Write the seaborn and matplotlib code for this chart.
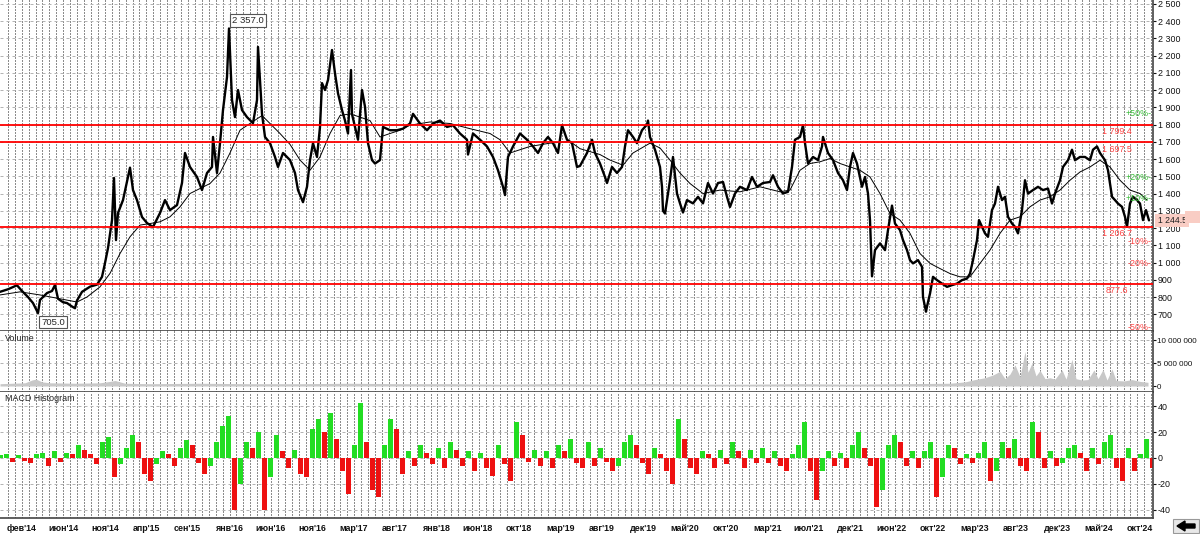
import numpy as np
import matplotlib
matplotlib.use("Agg")
import matplotlib.pyplot as plt
import matplotlib.patches as mpatches
import seaborn as sns
import pandas as pd

# bar number on the time axis (one step = one column of the original chart)
price_bar = [0, 8, 17, 22, 28, 33, 38, 40, 47, 52, 55, 58, 63, 67, 72, 75, 77, 82, 90, 97,
             102, 105, 108, 112, 114, 116, 118, 123, 128, 130, 133, 137, 142, 147, 153, 160,
             165, 170, 177, 182, 185, 190, 197, 202, 207, 212, 213, 217, 220, 223, 227, 229,
             232, 235, 238, 242, 247, 253, 257, 258, 260, 262, 265, 270, 275, 278, 283, 290,
             295, 298, 303, 307, 310, 313, 317, 320, 322, 325, 328, 332, 335, 338, 342, 345,
             348, 351, 352, 355, 358, 362, 365, 368, 372, 375, 380, 383, 390, 397, 403, 410,
             413, 420, 427, 433, 440, 447, 453, 460, 467, 468, 473, 480, 487, 493, 498, 503,
             505, 508, 513, 520, 527, 533, 538, 543, 548, 553, 558, 562, 567, 572, 577, 580,
             587, 592, 595, 600, 605, 607, 612, 617, 622, 625, 628, 633, 637, 642, 647, 648,
             650, 655, 660, 662, 663, 665, 667, 670, 673, 677, 680, 683, 687, 693, 698, 703,
             708, 713, 718, 723, 727, 730, 735, 740, 747, 752, 757, 763, 770, 773, 778, 783,
             788, 792, 795, 800, 803, 805, 808, 813, 818, 822, 823, 828, 833, 838, 843, 847,
             850, 853, 857, 862, 865, 868, 870, 872, 875, 880, 885, 888, 892, 895, 900, 903,
             907, 910, 913, 918, 922, 923, 926, 927, 930, 933, 937, 942, 947, 952, 957, 962,
             967, 970, 973, 977, 979, 982, 985, 988, 992, 995, 998, 1002, 1005, 1008, 1012,
             1015, 1018, 1022, 1025, 1028, 1033, 1038, 1043, 1048, 1052, 1055, 1060, 1063,
             1068, 1072, 1075, 1080, 1085, 1090, 1093, 1097, 1100, 1105, 1108, 1112, 1115,
             1118, 1122, 1125, 1127, 1130, 1133, 1137, 1140, 1143, 1146, 1149]
price_close = [830, 845, 868, 835, 800, 765, 707, 783, 823, 835, 870, 790, 770, 765, 745, 735,
               780, 830, 860, 872, 917, 997, 1084, 1246, 1490, 1130, 1287, 1362, 1496, 1550,
               1420, 1362, 1264, 1229, 1206, 1287, 1362, 1304, 1333, 1461, 1635, 1554, 1496,
               1420, 1519, 1554, 1728, 1519, 1692, 1884, 2075, 2357, 1942, 1843, 2000, 1884,
               1843, 1808, 1942, 2250, 2058, 1862, 1728, 1692, 1612, 1554, 1635, 1594, 1519,
               1420, 1350, 1439, 1594, 1692, 1612, 1786, 2040, 2000, 2058, 2232, 2097, 1981,
               1884, 1823, 1748, 2116, 1860, 1786, 1712, 2000, 1903, 1692, 1594, 1574, 1594,
               1786, 1767, 1767, 1776, 1806, 1862, 1806, 1767, 1806, 1823, 1786, 1796, 1748,
               1712, 1626, 1748, 1712, 1673, 1612, 1535, 1439, 1391, 1612, 1673, 1748, 1712,
               1673, 1635, 1692, 1728, 1692, 1635, 1796, 1712, 1692, 1554, 1560, 1635, 1712,
               1635, 1574, 1496, 1461, 1554, 1519, 1554, 1673, 1767, 1728, 1692, 1767, 1800,
               1823, 1728, 1654, 1554, 1439, 1300, 1284, 1362, 1477, 1612, 1400, 1343, 1290,
               1362, 1343, 1381, 1343, 1461, 1400, 1461, 1467, 1381, 1322, 1400, 1439, 1420,
               1496, 1439, 1461, 1467, 1506, 1439, 1400, 1410, 1554, 1712, 1728, 1796, 1692,
               1574, 1612, 1594, 1673, 1728, 1635, 1594, 1519, 1477, 1420, 1554, 1635, 1574,
               1439, 1496, 1400, 1246, 920, 1072, 1111, 1072, 1188, 1330, 1226, 1188, 1130,
               1072, 1014, 995, 1014, 975, 800, 715, 745, 820, 917, 898, 878, 859, 869, 878,
               898, 907, 936, 1014, 1130, 1246, 1207, 1169, 1149, 1304, 1342, 1439, 1362, 1381,
               1265, 1226, 1207, 1169, 1304, 1477, 1400, 1420, 1439, 1420, 1429, 1342, 1400,
               1477, 1554, 1593, 1654, 1593, 1612, 1612, 1593, 1654, 1673, 1635, 1593, 1535,
               1381, 1362, 1342, 1323, 1265, 1207, 1342, 1381, 1362, 1342, 1246, 1304, 1244.5]

# moving average line
ma_bar = [0, 20, 40, 77, 87, 100, 110, 120, 130, 140, 150, 160, 170, 180, 190, 200, 210, 220,
          230, 240, 250, 262, 270, 280, 290, 300, 310, 320, 330, 340, 350, 360, 370, 380, 390,
          400, 410, 430, 450, 470, 490, 500, 510, 520, 530, 550, 570, 580, 600, 610, 623, 633,
          650, 660, 670, 680, 690, 703, 720, 740, 760, 780, 790, 800, 810, 820, 830, 840, 860,
          870, 880, 890, 900, 910, 920, 930, 940, 950, 960, 970, 980, 990, 1000, 1010, 1020,
          1030, 1040, 1050, 1060, 1070, 1080, 1090, 1100, 1110, 1120, 1130, 1140, 1147]
ma_value = [812, 830, 812, 771, 800, 859, 937, 1052, 1149, 1217, 1226, 1236, 1265, 1323, 1400,
            1429, 1458, 1519, 1635, 1767, 1806, 1852, 1806, 1748, 1685, 1594, 1535, 1612, 1748,
            1852, 1862, 1843, 1823, 1728, 1748, 1767, 1796, 1815, 1806, 1776, 1748, 1712, 1635,
            1654, 1673, 1692, 1702, 1660, 1626, 1594, 1564, 1635, 1692, 1664, 1594, 1519, 1458,
            1400, 1420, 1410, 1439, 1410, 1420, 1535, 1574, 1584, 1603, 1574, 1535, 1496, 1400,
            1284, 1246, 1169, 1052, 995, 965, 936, 917, 917, 995, 1072, 1169, 1246, 1265, 1323,
            1362, 1381, 1420, 1477, 1525, 1554, 1593, 1554, 1477, 1420, 1400, 1362]

levels = [1799.4, 1697.5, 1206.7, 877.6]
level_text = ["1 799.4", "1 697.5", "1 206.7", "877.6"]
last_price = 1244.5
pct_marks = [50, 20, 10, -10, -20, -50]
high_bar, high_price = 229, 2357.0
low_bar, low_price = 38, 705.0

vol_bar = [0, 12, 25, 32, 36, 42, 50, 75, 100, 110, 115, 125, 150, 200, 250, 300, 350, 400,
           450, 500, 550, 600, 650, 700, 750, 800, 850, 900, 950, 965, 975, 985, 993, 1000,
           1005, 1010, 1015, 1020, 1025, 1028, 1032, 1036, 1040, 1045, 1050, 1055, 1062,
           1066, 1072, 1076, 1082, 1088, 1094, 1098, 1103, 1107, 1112, 1116, 1124, 1132,
           1140, 1148]
vol_value = [0.5, 0.6, 0.7, 1.3, 1.5, 0.9, 0.7, 0.6, 0.7, 1.0, 1.2, 0.6, 0.5, 0.6, 0.5, 0.5,
             0.6, 0.5, 0.5, 0.4, 0.5, 0.4, 0.5, 0.4, 0.4, 0.5, 0.4, 0.5, 0.6, 0.9, 1.4, 1.8,
             2.4, 3.2, 1.6, 2.6, 4.6, 2.0, 7.5, 3.0, 5.0, 2.2, 3.4, 1.6, 1.8, 1.5, 3.5, 1.5,
             5.8, 1.6, 1.3, 1.4, 3.5, 1.6, 3.6, 1.3, 3.7, 1.2, 1.1, 1.4, 1.0, 0.8]

macd_value = [2, 3, -3, 2, -2, -4, 3, 4, -6, 5, -3, 4, 3, 10, 6, 3, -5, 12, 16, -15, -5, 8,
              18, 12, -12, -18, -5, 5, 3, -6, 8, 14, 10, -4, -12, -6, 12, 25, 32, -40, -20,
              12, 8, 20, -40, -15, 18, 5, -8, 6, -12, -15, 22, 30, 20, 35, 15, -10, -28, 10,
              42, 12, -25, -30, 10, 30, 22, -12, 5, -6, 10, 4, -5, 8, -8, 12, 6, -6, 5, -10,
              4, -8, -14, 10, -5, -18, 28, 18, -3, 6, -6, 5, -8, 10, 5, 15, -4, -8, 12, -6,
              8, -3, -10, -6, 12, 18, 10, -4, -12, 8, 3, -10, -20, 30, 15, -8, -12, 5, 3, -8,
              6, -5, 12, 5, -8, 6, -4, 8, -4, 5, -6, -10, 3, 10, 28, -10, -32, -10, 5, -6, 4,
              -8, 10, 20, 8, -6, -38, -25, 10, 18, 12, -6, 5, -8, 5, 12, -30, -15, 10, 8, -5,
              3, -4, 4, 12, -18, -10, 12, 8, 15, -6, -10, 28, 20, -8, 5, -6, -4, 8, 10, 4,
              -10, 8, -5, 12, 18, -8, -18, 8, -10, 3, 15, -8]
macd_bar = [6 * i for i in range(len(macd_value))]

month_labels = ["фев'14", "июн'14", "ноя'14", "апр'15", "сен'15", "янв'16", "июн'16",
                "ноя'16", "мар'17", "авг'17", "янв'18", "июн'18", "окт'18", "мар'19",
                "авг'19", "дек'19", "май'20", "окт'20", "мар'21", "июл'21", "дек'21",
                "июн'22", "окт'22", "мар'23", "авг'23", "дек'23", "май'24", "окт'24"]

sns.set_theme(style="white")
plt.rcParams['font.family'] = ['Liberation Sans', 'DejaVu Sans']

W, H = 1200, 534
fig = plt.figure(figsize=(W / 100, H / 100), dpi=100)
right = 1153 / W
FS = 6.4


def panel(top_px, bottom_px):
    return fig.add_axes([0, 1 - bottom_px / H, right, (bottom_px - top_px) / H])


ax_p = panel(0, 331)
ax_v = panel(331, 392)
ax_m = panel(392, 518)

xmax = 1153
grid_x = np.round(np.arange(6.8, xmax, 6.93)) + 0.5

for ax in (ax_p, ax_v, ax_m):
    ax.set_xlim(0, xmax)
    for gx in grid_x:
        ax.axvline(gx, color='#1a1a1a', lw=0.72, ls=(0, (1, 2)), zorder=0, snap=True)
    ax.yaxis.tick_right()
    ax.tick_params(axis='y', labelsize=FS, colors='#111111', length=2, width=0.8,
                   direction='out', pad=1.5, right=True)
    ax.tick_params(axis='x', length=0)
    for s in ('left', 'top'):
        ax.spines[s].set_visible(False)
    for s in ('right', 'bottom'):
        ax.spines[s].set_color('#444444')
        ax.spines[s].set_linewidth(1.2)
    ax.set_facecolor('white')

# ---- price panel
ax_p.set_ylim(603, 2522)
pticks = list(range(700, 2501, 100))
ax_p.set_yticks(pticks)
ax_p.set_yticklabels([f"{t:,}".replace(',', ' ') for t in pticks])
for t in pticks:
    ax_p.axhline(t, color='#b4b4b4', lw=0.72, ls=(0, (3, 3)), zorder=0)
ax_p.set_xticks([])

df_p = pd.DataFrame({'bar': price_bar, 'close': price_close})
sns.lineplot(data=df_p, x='bar', y='close', ax=ax_p, color='black', lw=1.7,
             estimator=None, sort=False, zorder=3)
df_ma = pd.DataFrame({'bar': ma_bar, 'ma': ma_value})
sns.lineplot(data=df_ma, x='bar', y='ma', ax=ax_p, color='black', lw=0.7,
             estimator=None, sort=False, zorder=3)

for lv, txt in zip(levels, level_text):
    ax_p.axhline(lv, color='#ff0000', lw=1.3, zorder=4)
    ax_p.annotate(txt, xy=(1117, lv), xytext=(0, -5), textcoords='offset points',
                  ha='center', va='center', fontsize=FS, color='#ff4444', zorder=5)

for pc in pct_marks:
    val = last_price * (1 + pc / 100)
    col = '#33bb33' if pc > 0 else '#ff4444'
    ax_p.text(1152, val, f"{pc:+d}%-", ha='right', va='center', fontsize=FS,
              color=col, zorder=5)

ax_p.text(high_bar + 3, high_price + 45, f"{high_price:,.1f}".replace(',', ' '),
          ha='left', va='center', fontsize=6.8, zorder=6,
          bbox=dict(boxstyle='square,pad=0.2', fc='white', ec='#555555', lw=0.8))
ax_p.text(low_bar + 3, low_price - 50, f"{low_price:.1f}", ha='left', va='center',
          fontsize=6.8, zorder=6,
          bbox=dict(boxstyle='square,pad=0.2', fc='white', ec='#555555', lw=0.8))

ax_p.text(1.004, last_price, f"{last_price:,.1f}".replace(',', ' '),
          transform=ax_p.get_yaxis_transform(), ha='left', va='center', fontsize=6.2,
          color='#222222', zorder=6, clip_on=False,
          bbox=dict(boxstyle='square,pad=0.25', fc='#f9cdc4', ec='none'))
fig.add_artist(mpatches.Rectangle((1185 / W, 1 - 223 / H), 15 / W, 12 / H,
                                  transform=fig.transFigure, fc='#f9cdc4', ec='none'))

# ---- volume panel
ax_v.set_ylim(-1.3e6, 11.96e6)
vticks = [0, 5_000_000, 10_000_000]
ax_v.set_yticks(vticks)
ax_v.set_yticklabels([f"{t:,}".replace(',', ' ') for t in vticks])
ax_v.tick_params(axis='y', labelsize=5.8, pad=1)
for t in vticks[1:]:
    ax_v.axhline(t, color='#b4b4b4', lw=0.72, ls=(0, (3, 3)), zorder=0)
vol = np.array(vol_value) * 1e6
ax_v.fill_between(vol_bar, 0, vol, color='#c8c8c8', lw=0, zorder=2)
ax_v.set_xticks([])
ax_v.text(5, 11.2e6, "Volume", fontsize=FS, va='top', ha='left', color='#222222')

# ---- MACD histogram panel
ax_m.set_ylim(-46.2, 50.8)
mticks = [-40, -20, 0, 20, 40]
ax_m.set_yticks(mticks)
ax_m.set_yticklabels([str(t) for t in mticks])
for t in mticks:
    ax_m.axhline(t, color='#b4b4b4', lw=0.72, ls=(0, (3, 3)), zorder=0)
mv = np.array(macd_value, dtype=float)
rising = np.concatenate([[True], np.diff(mv) >= 0])
colors = np.where(rising, '#22dd22', '#ee1111')
ax_m.bar(macd_bar, mv, width=5, color=colors, lw=0, zorder=2)
ax_m.text(5, 49, "MACD Histogram", fontsize=FS, va='top', ha='left', color='#222222')

ax_m.set_xticks(np.linspace(22, 1140, len(month_labels)))
ax_m.set_xticklabels(month_labels, fontsize=FS, fontweight='bold', color='#111111')
ax_m.tick_params(axis='x', pad=4)

for ax in (ax_p, ax_v, ax_m):
    ax.set_xlabel('')
    ax.set_ylabel('')

# scroll arrow button in the corner
fig.add_artist(mpatches.Rectangle((1173 / W, 1 / H), 26 / W, 14 / H,
                                  transform=fig.transFigure, fc='#e8e8e8',
                                  ec='#999999', lw=0.8))
fig.add_artist(mpatches.FancyArrow(1195 / W, 8 / H, -18 / W, 0, width=4 / H,
                                   head_width=10 / H, head_length=8 / W,
                                   length_includes_head=True,
                                   transform=fig.transFigure, color='black'))

fig.savefig("out.png", dpi=100)
